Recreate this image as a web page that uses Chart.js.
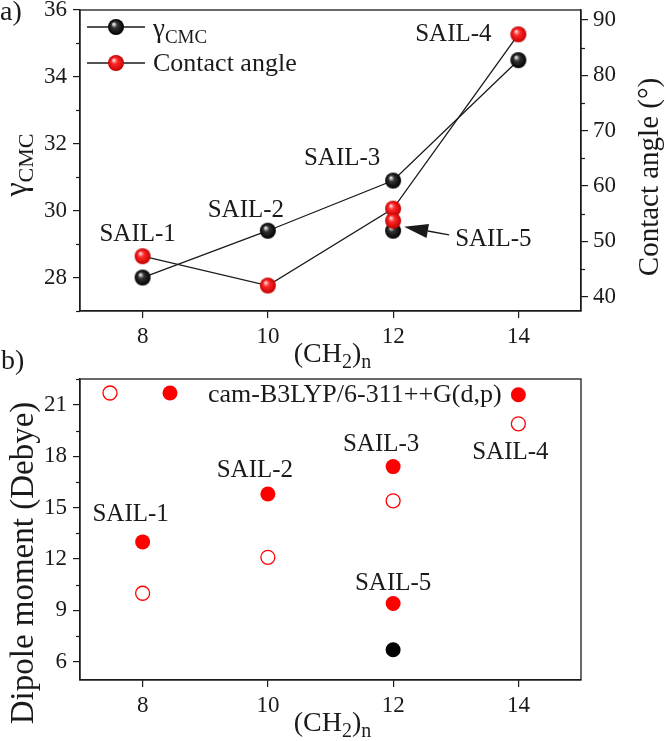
<!DOCTYPE html>
<html>
<head>
<meta charset="utf-8">
<script src="https://cdn.jsdelivr.net/npm/chart.js@4.4.0/dist/chart.umd.min.js"></script>
<style>
  html, body { margin: 0; padding: 0; background: #fff; }
  #wrap { position: relative; width: 666px; height: 741px; overflow: hidden; }
  .box { position: absolute; left: 0; width: 666px; }
  #topBox { top: 0; height: 375px; }
  #botBox { top: 340px; height: 401px; }
</style>
</head>
<body>
<div id="wrap">
  <div class="box" id="topBox"><canvas id="topChart"></canvas></div>
  <div class="box" id="botBox"><canvas id="botChart"></canvas></div>
</div>
<script>
// panel a) surface tension / contact angle vs chain length
const chainLength = [8, 10, 12, 14];
const gammaCmc = [28.0, 29.4, 30.9, 34.5];
const contactAngle = [47.3, 42.0, 55.9, 87.4];
const sail5Chain = [12];
const sail5Gamma = [29.4];
const sail5Angle = [53.7];

// panel b) dipole moments
const dipoleOpen = [10.0, 12.1, 15.4, 19.9];
const dipoleCam = [13.0, 15.8, 17.4, 21.6];
const sail5DipoleCam = [9.4];
const sail5DipoleBlack = [6.7];

const sailNames = ['SAIL-1', 'SAIL-2', 'SAIL-3', 'SAIL-4', 'SAIL-5'];
const xTicks = [8, 10, 12, 14];
const gammaTicks = [28, 30, 32, 34, 36];
const angleTicks = [40, 50, 60, 70, 80, 90];
const dipoleTicks = [6, 9, 12, 15, 18, 21];

const serif = '"Liberation Serif", "Times New Roman", serif';
const ink = '#1a1a1a';
const red = '#ff0000';

function makeSphere(light, mid, dark, r) {
  const c = document.createElement('canvas');
  const s = Math.ceil(r * 2 + 2);
  c.width = c.height = s;
  const g = c.getContext('2d');
  const cx = s / 2, cy = s / 2;
  const grad = g.createRadialGradient(cx - r * 0.3, cy - r * 0.38, r * 0.05, cx, cy, r);
  grad.addColorStop(0, light);
  grad.addColorStop(0.35, mid);
  grad.addColorStop(1, dark);
  g.fillStyle = grad;
  g.beginPath();
  g.arc(cx, cy, r, 0, Math.PI * 2);
  g.fill();
  return c;
}
const blackBall = makeSphere('#f2f2f2', '#333', '#000', 8);
const redBall = makeSphere('#ffe2e2', '#ff2a2a', '#c40000', 8);

const pts = (xs, ys) => xs.map((x, i) => ({ x: x, y: ys[i] }));

// fixed axis sizes so both panels line up
function fixed(size) {
  return function(scale) {
    if (scale.isHorizontal()) scale.height = size; else scale.width = size;
    scale.paddingTop = 0; scale.paddingBottom = 0;
    scale.paddingLeft = 0; scale.paddingRight = 0;
  };
}
function setTicks(values) {
  return function(scale) { scale.ticks = values.map(v => ({ value: v })); };
}
function axis(min, max, ticks, size, pad, extra) {
  return Object.assign({
    type: 'linear', min: min, max: max,
    afterBuildTicks: setTicks(ticks),
    afterFit: fixed(size),
    grid: { drawOnChartArea: false, tickLength: 7, color: ink, lineWidth: 1.2 },
    border: { color: ink, width: 1.3 },
    ticks: { font: { family: serif, size: 23 }, color: ink, padding: pad }
  }, extra || {});
}

function richText(ctx, parts, x, y) {
  let cx = x;
  parts.forEach(([t, size, shift]) => {
    ctx.font = size + 'px ' + serif;
    ctx.fillText(t, cx, y + shift);
    cx += ctx.measureText(t).width;
  });
}
function richWidth(ctx, parts) {
  let w = 0;
  parts.forEach(([t, size]) => { ctx.font = size + 'px ' + serif; w += ctx.measureText(t).width; });
  return w;
}

// frame + minor ticks
const framePlugin = {
  id: 'frame',
  afterDraw(chart, args, opts) {
    const ctx = chart.ctx, a = chart.chartArea;
    ctx.save();
    ctx.strokeStyle = ink;
    ctx.lineWidth = 1.3;
    ctx.strokeRect(a.left, a.top, a.right - a.left, a.bottom - a.top);
    ctx.lineWidth = 1.2;
    Object.keys(opts.minor || {}).forEach(id => {
      const sc = chart.scales[id], step = opts.minor[id];
      const majors = sc.ticks.map(t => t.value);
      const left = sc.position === 'left';
      const x0 = left ? a.left : a.right;
      for (let v = Math.ceil(sc.min / step) * step; v <= sc.max + 1e-6; v += step) {
        if (majors.some(m => Math.abs(m - v) < 1e-6)) continue;
        const y = Math.round(sc.getPixelForValue(v)) + 0.5;
        ctx.beginPath();
        ctx.moveTo(x0, y);
        ctx.lineTo(left ? x0 - 4 : x0 + 4, y);
        ctx.stroke();
      }
    });
    ctx.restore();
  }
};

// SAIL labels anchored on points
const notePlugin = {
  id: 'notes',
  afterDatasetsDraw(chart, args, opts) {
    const ctx = chart.ctx;
    ctx.save();
    ctx.fillStyle = ink;
    ctx.font = '25px ' + serif;
    ctx.textBaseline = 'middle';
    (opts.labels || []).forEach(l => {
      const el = chart.getDatasetMeta(l.ds).data[l.idx];
      ctx.textAlign = l.align || 'center';
      ctx.fillText(l.text, el.x + l.dx, el.y + l.dy);
    });
    ctx.restore();
  }
};

const topDecor = {
  id: 'topDecor',
  afterDraw(chart) {
    const ctx = chart.ctx, a = chart.chartArea;
    ctx.save();
    ctx.fillStyle = ink;
    ctx.strokeStyle = ink;
    ctx.textAlign = 'left';
    ctx.textBaseline = 'middle';
    ctx.font = '28px ' + serif;
    ctx.fillText('a)', 0, 13);

    // legend
    const rows = [
      { y: a.top + 17, ball: blackBall, parts: [['γ', 27, 0], ['CMC', 19, 6]], base: a.top + 27 },
      { y: a.top + 53, ball: redBall, parts: [['Contact angle', 26, 0]], base: a.top + 61 }
    ];
    ctx.lineWidth = 1.3;
    ctx.textBaseline = 'alphabetic';
    rows.forEach(r => {
      ctx.beginPath();
      ctx.moveTo(a.left + 7, r.y);
      ctx.lineTo(a.left + 65, r.y);
      ctx.stroke();
      ctx.drawImage(r.ball, a.left + 36 - r.ball.width / 2, r.y - r.ball.height / 2);
      richText(ctx, r.parts, a.left + 73, r.base);
    });

    // left title
    const yParts = [['γ', 32, 0], ['CMC', 22, 7]];
    ctx.save();
    ctx.translate(26, 165);
    ctx.rotate(-Math.PI / 2);
    richText(ctx, yParts, -richWidth(ctx, yParts) / 2, 0);
    ctx.restore();

    // right title
    ctx.save();
    ctx.translate(650, 177);
    ctx.rotate(-Math.PI / 2);
    ctx.textAlign = 'center';
    ctx.textBaseline = 'middle';
    ctx.font = '29px ' + serif;
    ctx.fillText('Contact angle (°)', 0, 0);
    ctx.restore();

    // x title
    const xParts = [['(CH', 28, 0], ['2', 20, 6], [')', 28, 0], ['n', 20, 6]];
    ctx.textAlign = 'left';
    richText(ctx, xParts, (a.left + a.right) / 2 + 2 - richWidth(ctx, xParts) / 2, a.bottom + 51);

    // arrow to SAIL-5
    const p = chart.getDatasetMeta(3).data[0];
    const tip = { x: p.x + 11, y: p.y + 6 };
    const tail = { x: p.x + 56, y: p.y + 14 };
    const ang = Math.atan2(tail.y - tip.y, tail.x - tip.x);
    const hl = 24, hw = 7;
    const bx = tip.x + Math.cos(ang) * hl, by = tip.y + Math.sin(ang) * hl;
    ctx.beginPath();
    ctx.moveTo(tip.x, tip.y);
    ctx.lineTo(bx - Math.sin(ang) * hw, by + Math.cos(ang) * hw);
    ctx.lineTo(bx + Math.sin(ang) * hw, by - Math.cos(ang) * hw);
    ctx.closePath();
    ctx.fill();
    ctx.beginPath();
    ctx.moveTo(bx, by);
    ctx.lineTo(tail.x, tail.y);
    ctx.stroke();
    ctx.restore();
  }
};

const botDecor = {
  id: 'botDecor',
  afterDraw(chart) {
    const ctx = chart.ctx, a = chart.chartArea;
    ctx.save();
    ctx.fillStyle = ink;
    ctx.textAlign = 'left';
    ctx.textBaseline = 'middle';
    ctx.font = '28px ' + serif;
    ctx.fillText('b)', 1, 22);

    // legend
    const ly = a.top + 14;
    ctx.strokeStyle = red;
    ctx.lineWidth = 1.3;
    ctx.beginPath();
    ctx.arc(a.left + 30, ly, 7, 0, Math.PI * 2);
    ctx.stroke();
    ctx.fillStyle = red;
    ctx.beginPath();
    ctx.arc(a.left + 90, ly, 7.5, 0, Math.PI * 2);
    ctx.fill();
    ctx.fillStyle = ink;
    ctx.font = '26px ' + serif;
    ctx.fillText('cam-B3LYP/6-311++G(d,p)', a.left + 128, a.top + 16);

    // y title
    ctx.save();
    ctx.translate(24, a.top + 184);
    ctx.rotate(-Math.PI / 2);
    ctx.textAlign = 'center';
    ctx.font = '33px ' + serif;
    ctx.fillText('Dipole moment (Debye)', 0, 0);
    ctx.restore();

    // x title
    const xParts = [['(CH', 28, 0], ['2', 20, 6], [')', 28, 0], ['n', 20, 6]];
    ctx.textBaseline = 'alphabetic';
    richText(ctx, xParts, (a.left + a.right) / 2 + 2 - richWidth(ctx, xParts) / 2, a.bottom + 51);
    ctx.restore();
  }
};

const common = {
  responsive: true,
  maintainAspectRatio: false,
  animation: false,
  events: [],
  plugins: { legend: { display: false }, tooltip: { enabled: false } }
};

new Chart(document.getElementById('topChart'), {
  type: 'scatter',
  data: {
    datasets: [
      { label: 'γCMC', data: pts(chainLength, gammaCmc), yAxisID: 'y', showLine: true,
        borderColor: ink, borderWidth: 1.3, pointStyle: blackBall, pointRadius: 8, order: 2 },
      { label: 'Contact angle', data: pts(chainLength, contactAngle), yAxisID: 'y2', showLine: true,
        borderColor: ink, borderWidth: 1.3, pointStyle: redBall, pointRadius: 8, order: 1 },
      { label: 'SAIL-5 γCMC', data: pts(sail5Chain, sail5Gamma), yAxisID: 'y',
        pointStyle: blackBall, pointRadius: 8, order: 3 },
      { label: 'SAIL-5 contact angle', data: pts(sail5Chain, sail5Angle), yAxisID: 'y2',
        pointStyle: redBall, pointRadius: 8, order: 0 }
    ]
  },
  options: Object.assign({}, common, {
    layout: { padding: { top: 10, left: 0, right: 0, bottom: 0 } },
    scales: {
      x: axis(7, 15, xTicks, 64, 5, { position: 'bottom' }),
      y: axis(27, 36, gammaTicks, 80, 6, { position: 'left' }),
      y2: axis(37.4, 91.8, angleTicks, 85, 5, { position: 'right' })
    },
    plugins: Object.assign({}, common.plugins, {
      frame: { minor: { y: 1, y2: 5 } },
      notes: { labels: [
        { text: sailNames[0], ds: 1, idx: 0, dx: -5, dy: -22 },
        { text: sailNames[1], ds: 0, idx: 1, dx: -22, dy: -20 },
        { text: sailNames[2], ds: 0, idx: 2, dx: -51, dy: -22 },
        { text: sailNames[3], ds: 1, idx: 3, dx: -65, dy: 0 },
        { text: sailNames[4], ds: 3, idx: 0, dx: 62, dy: 19, align: 'left' }
      ] }
    })
  }),
  plugins: [framePlugin, notePlugin, topDecor]
});

new Chart(document.getElementById('botChart'), {
  type: 'scatter',
  data: {
    datasets: [
      { label: 'open', data: pts(chainLength, dipoleOpen), pointStyle: 'circle', pointRadius: 7,
        backgroundColor: 'rgba(0,0,0,0)', borderColor: red, pointBorderWidth: 1.3 },
      { label: 'cam-B3LYP/6-311++G(d,p)', data: pts(chainLength, dipoleCam), pointStyle: 'circle',
        pointRadius: 7.5, backgroundColor: red, borderColor: red, pointBorderWidth: 0 },
      { label: 'SAIL-5 cam', data: pts(sail5Chain, sail5DipoleCam), pointStyle: 'circle',
        pointRadius: 7.5, backgroundColor: red, borderColor: red, pointBorderWidth: 0 },
      { label: 'SAIL-5 black', data: pts(sail5Chain, sail5DipoleBlack), pointStyle: 'circle',
        pointRadius: 7.5, backgroundColor: '#000', borderColor: '#000', pointBorderWidth: 0 }
    ]
  },
  options: Object.assign({}, common, {
    layout: { padding: { top: 39, left: 0, right: 85, bottom: 0 } },
    scales: {
      x: axis(7, 15, xTicks, 61, 5, { position: 'bottom' }),
      y: axis(4.93, 22.52, dipoleTicks, 80, 6, { position: 'left' })
    },
    plugins: Object.assign({}, common.plugins, {
      frame: { minor: { y: 1.5 } },
      notes: { labels: [
        { text: sailNames[0], ds: 1, idx: 0, dx: -12, dy: -27 },
        { text: sailNames[1], ds: 1, idx: 1, dx: -13, dy: -24 },
        { text: sailNames[2], ds: 1, idx: 2, dx: -12, dy: -22 },
        { text: sailNames[3], ds: 0, idx: 3, dx: -8, dy: 29 },
        { text: sailNames[4], ds: 2, idx: 0, dx: 0, dy: -20 }
      ] }
    })
  }),
  plugins: [framePlugin, notePlugin, botDecor]
});
</script>
</body>
</html>
